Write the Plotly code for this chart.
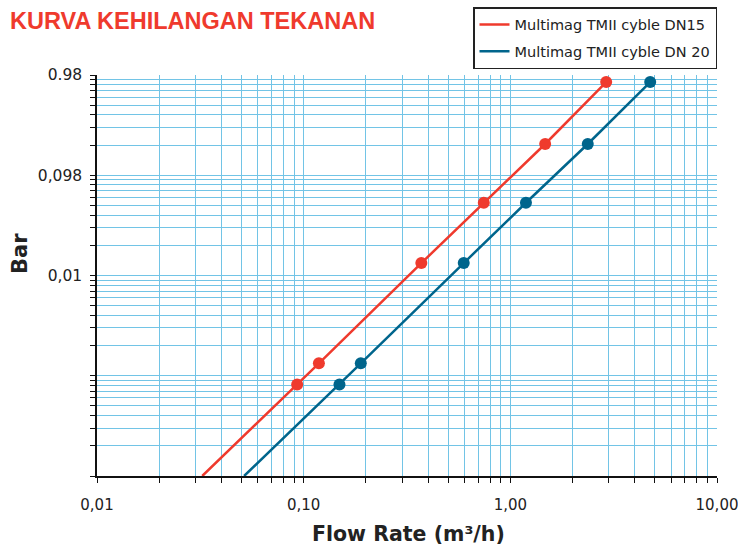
import plotly.graph_objects as go

# ---- data ----
dn15_q = [0.093, 0.1185, 0.371, 0.744, 1.474, 2.909]
dn15_bar = [0.00082, 0.00133, 0.0133, 0.0532, 0.205, 0.851]
dn15_line_start_q = 0.0323
dn15_line_start_bar = 0.0001

dn20_q = [0.149, 0.189, 0.595, 1.19, 2.37, 4.75]
dn20_bar = [0.00082, 0.00133, 0.0133, 0.0532, 0.205, 0.851]
dn20_line_start_q = 0.0515
dn20_line_start_bar = 0.0001

x_tick_vals = [0.01, 0.1, 1, 10]
x_tick_text = ["0,01", "0,10", "1,00", "10,00"]
y_tick_vals = [0.0001, 0.001, 0.01, 0.1, 1]
y_tick_text = ["", "", "0,01", "0,098", "0.98"]

name15 = "Multimag TMII cyble DN15"
name20 = "Multimag TMII cyble DN 20"

RED = "#ef3a2d"
BLUE = "#00658c"
GRID = "#72c4e6"
TXT = "#222"
SANS = "DejaVu Sans, sans-serif"
ARIAL = "Liberation Sans, Arial, sans-serif"

W, H = 738, 545
ML, MR, MT, MB = 97, 21, 75, 69
PW, PH = W - ML - MR, H - MT - MB
BOT = H - MB      # pixel row of plot bottom


def minor_vals(lo_exp, hi_exp):
    vals = []
    for e in range(lo_exp, hi_exp):
        for k in range(2, 10):
            vals.append(k * 10 ** e)
    return vals


def py(pix):
    """paper y from a pixel row"""
    return (BOT - pix) / PH


def px(pix):
    """paper x from a pixel column"""
    return (pix - ML) / PW


fig = go.Figure()

fig.add_trace(go.Scatter(
    x=[dn15_line_start_q] + dn15_q, y=[dn15_line_start_bar] + dn15_bar,
    mode="lines", name=name15, legendgroup="a",
    line=dict(color=RED, width=2.5)))
fig.add_trace(go.Scatter(
    x=dn15_q, y=dn15_bar, mode="markers", showlegend=False, legendgroup="a",
    marker=dict(color=RED, size=12)))
fig.add_trace(go.Scatter(
    x=[dn20_line_start_q] + dn20_q, y=[dn20_line_start_bar] + dn20_bar,
    mode="lines", name=name20, legendgroup="b",
    line=dict(color=BLUE, width=2.5)))
fig.add_trace(go.Scatter(
    x=dn20_q, y=dn20_bar, mode="markers", showlegend=False, legendgroup="b",
    marker=dict(color=BLUE, size=12)))

axis_font = dict(family=SANS, size=15, color=TXT)
minor_common = dict(ticks="outside", ticklen=5, tickwidth=1.2, tickcolor="#111",
                    showgrid=True, gridcolor=GRID, gridwidth=1.4)

fig.update_xaxes(
    type="log", range=[-2, 1],
    tickmode="array", tickvals=x_tick_vals, ticktext=x_tick_text,
    ticks="outside", ticklen=5, tickwidth=1.2, tickcolor="#111",
    showgrid=True, gridcolor=GRID, gridwidth=1.4,
    showline=True, linecolor="#111", linewidth=1.5, mirror=False,
    tickfont=axis_font, zeroline=False, ticklabelstandoff=9,
    ticklabeloverflow="allow",
    minor=dict(tickmode="array", tickvals=minor_vals(-2, 1), **minor_common),
)
fig.update_yaxes(
    type="log", range=[-4, 0],
    tickmode="array", tickvals=y_tick_vals, ticktext=y_tick_text,
    ticks="outside", ticklen=5, tickwidth=1.2, tickcolor="#111",
    showgrid=True, gridcolor=GRID, gridwidth=1.4,
    showline=True, linecolor="#111", linewidth=1.5, mirror=False,
    tickfont=dict(family=SANS, size=15.5, color=TXT), zeroline=False,
    ticklabelstandoff=5, ticklabeloverflow="allow",
    minor=dict(tickmode="array", tickvals=minor_vals(-4, 0), **minor_common),
)

fig.update_layout(
    width=W, height=H,
    margin=dict(l=ML, r=MR, t=MT, b=MB, autoexpand=False),
    paper_bgcolor="white", plot_bgcolor="white",
    font=dict(family=SANS, color=TXT),
    legend=dict(
        x=1, xanchor="right", y=py(7), yanchor="top",
        bgcolor="white", bordercolor="#222", borderwidth=1.5,
        font=dict(size=14.5, color=TXT, family=SANS),
        traceorder="grouped", tracegroupgap=5,
    ),
    annotations=[
        dict(text="<b>KURVA KEHILANGAN TEKANAN</b>", xref="paper", yref="paper",
             x=px(8), y=py(21), xanchor="left", yanchor="middle",
             showarrow=False, font=dict(size=23.5, color=RED, family=ARIAL)),
        dict(text="<b>Flow Rate (m³/h)</b>", xref="paper", yref="paper",
             x=px(408), y=py(534), xanchor="center", yanchor="middle",
             showarrow=False, font=dict(size=20.5, color=TXT, family=SANS)),
        dict(text="<b>Bar</b>", xref="paper", yref="paper",
             x=px(20), y=py(254), xanchor="center", yanchor="middle",
             textangle=-90, showarrow=False, font=dict(size=21, color=TXT, family=SANS)),
    ],
)

fig.write_html("out.html", config={"displayModeBar": False})

# remove the default page margin so the figure sits at the window origin
with open("out.html", "r", encoding="utf-8") as f:
    html = f.read()
html = html.replace("<body>", '<body style="margin:0;padding:0;overflow:hidden">', 1)
with open("out.html", "w", encoding="utf-8") as f:
    f.write(html)
